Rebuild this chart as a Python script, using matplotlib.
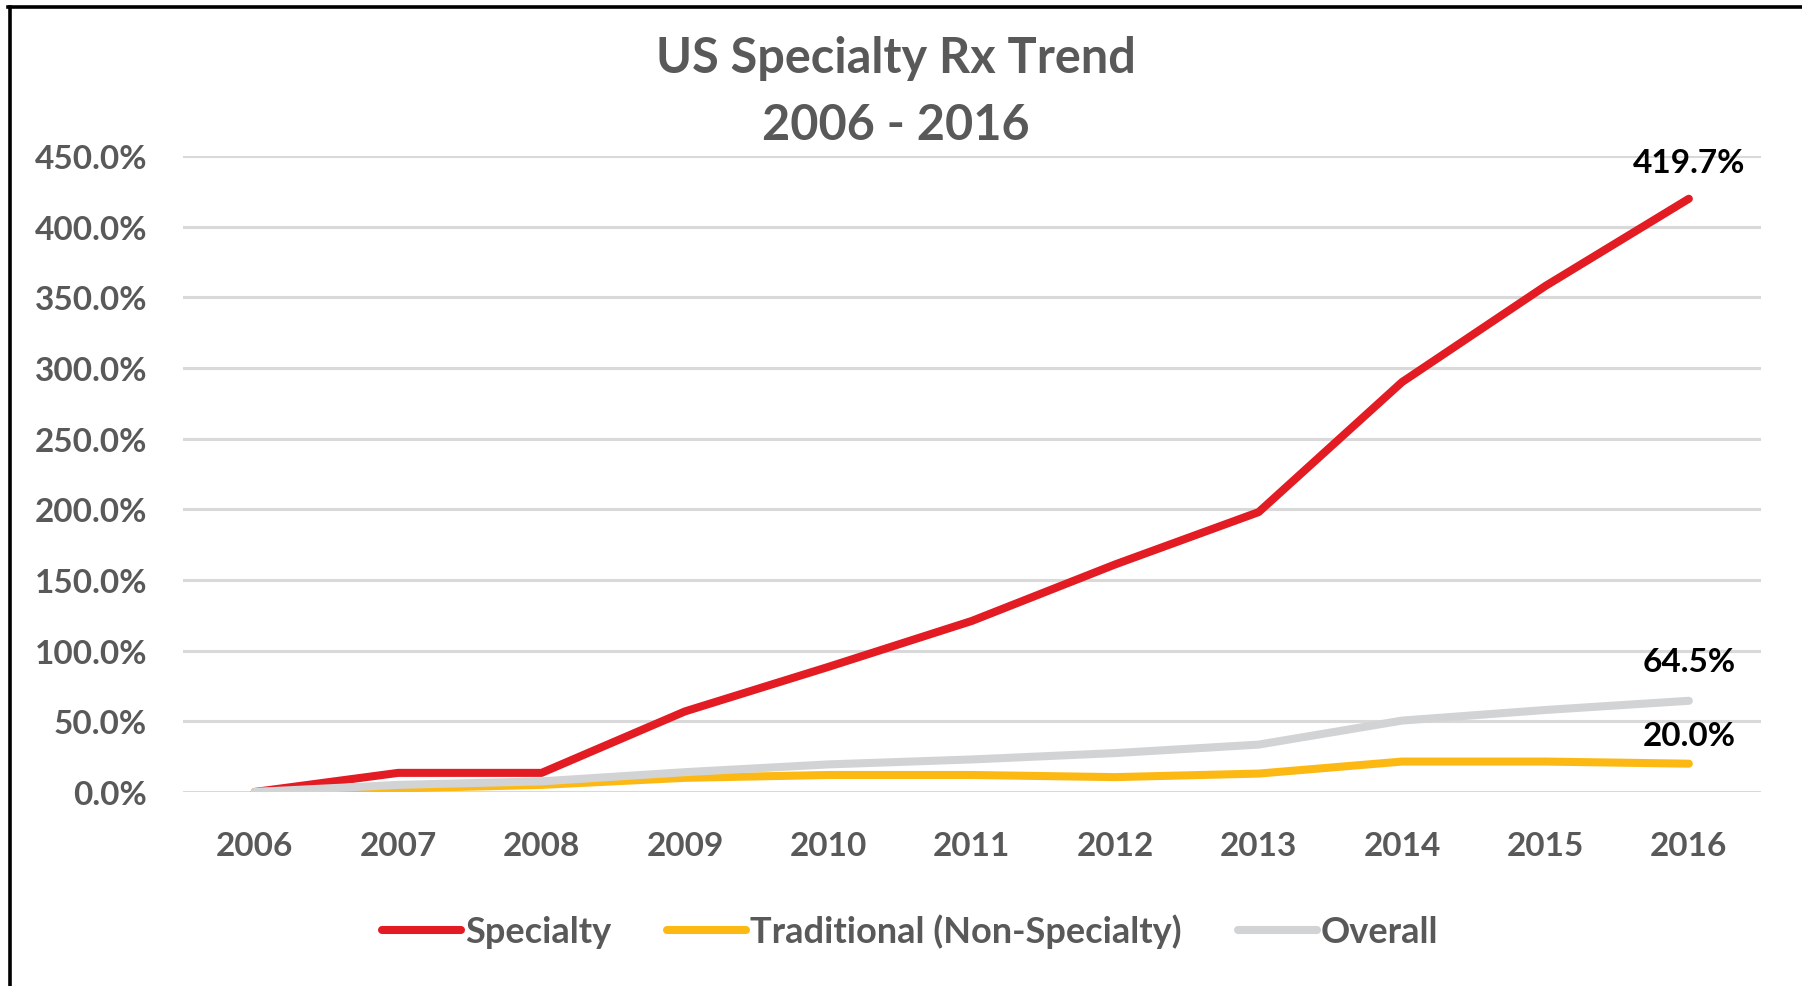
import numpy as np
from matplotlib import pyplot as plt
from matplotlib.lines import Line2D


years = ["2006", "2007", "2008", "2009", "2010", "2011",
         "2012", "2013", "2014", "2015", "2016"]

specialty   = [0.0, 13.5, 13.5, 57.0, 88.5, 121.0, 161.0, 198.0, 290.0, 358.0, 419.7]
traditional = [0.0,  2.5,  5.0, 10.0, 12.0,  12.0,  10.5,  13.0,  21.5,  21.5,  20.0]
overall     = [0.0,  5.0,  7.5, 14.0, 19.5,  23.0,  27.5,  33.5,  50.5,  58.0,  64.5]

y_ticks = [0, 50, 100, 150, 200, 250, 300, 350, 400, 450]

RED = "#e31b23"
ORANGE = "#fdb913"
GREY = "#d2d3d5"
TEXT = "#595959"

plt.rcParams["font.family"] = ["Lato", "DejaVu Sans"]
plt.rcParams["font.weight"] = "bold"

fig = plt.figure(figsize=(18.02, 9.87), dpi=100)
ax = fig.add_axes([0.1016, 0.1966, 0.8754, 0.6444])

x = np.arange(len(years))

style = {"linewidth": 5.8, "solid_capstyle": "round", "solid_joinstyle": "round"}
ax.plot(x, specialty, color=RED, label="Specialty", zorder=3, **style)
ax.plot(x, traditional, color=ORANGE, label="Traditional (Non-Specialty)",
        zorder=4, **style)
ax.plot(x, overall, color=GREY, label="Overall", zorder=5, **style)

ax.set_xlim(-0.5, len(years) - 0.5)
ax.set_ylim(0, 450)
ax.set_xticks(x)
ax.set_xticklabels(years)
ax.set_yticks(y_ticks)
ax.set_yticklabels([f"{v:.1f}%" for v in y_ticks])

ax.tick_params(axis="both", length=0, labelsize=24, labelcolor=TEXT)
ax.tick_params(axis="y", pad=26)
ax.tick_params(axis="x", pad=28)

ax.grid(axis="y", color="#d9d9d9", linewidth=2.2, zorder=0)
ax.set_axisbelow(True)
for spine in ax.spines.values():
    spine.set_visible(False)

# end labels
for series, dy in [(specialty, 26), (overall, 28), (traditional, 20)]:
    ax.annotate(f"{series[-1]:.1f}%", xy=(x[-1], series[-1]),
                xytext=(0, dy), textcoords="offset points",
                ha="center", va="center", fontsize=24, color="black")

fig.text(0.497, 1 - 59 / 987, "US Specialty Rx Trend", ha="center", va="center",
         fontsize=35, color=TEXT)
fig.text(0.497, 1 - 125 / 987, "2006 - 2016", ha="center", va="center",
         fontsize=35, color=TEXT)

fig.legend(loc="center", bbox_to_anchor=(0.505, 1 - 932 / 987), ncol=3,
           frameon=False, fontsize=26, labelcolor=TEXT,
           handlelength=2.2, handletextpad=0.1, columnspacing=1.55)

# left / top frame
fig.add_artist(Line2D([9.5 / 1802, 9.5 / 1802], [0, 1 - 7.5 / 987],
                      transform=fig.transFigure, color="black", linewidth=2.6))
fig.add_artist(Line2D([8 / 1802, 1], [1 - 7.5 / 987, 1 - 7.5 / 987],
                      transform=fig.transFigure, color="black", linewidth=2.6))

fig.savefig("out.png", dpi=100, facecolor="white")
